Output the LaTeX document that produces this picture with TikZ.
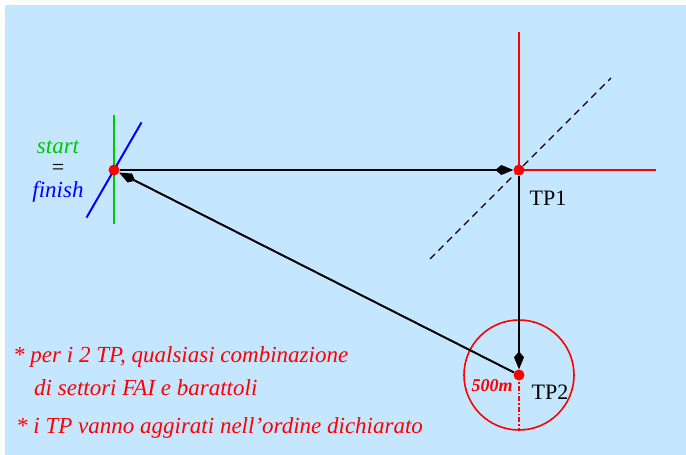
\documentclass[tikz,border=0pt]{standalone}
\usepackage{fontspec}
\setmainfont{Liberation Serif}
\usetikzlibrary{shapes,arrows.meta}
\definecolor{skyback}{RGB}{196,230,255}
\definecolor{startgreen}{RGB}{0,200,0}

\begin{document}
\begin{tikzpicture}[x=1pt,y=-1pt]
    % Define styles
    \tikzstyle{wp} = [circle, fill=red, inner sep=0pt, minimum size=11pt]
    \tikzstyle{leg} = [draw, line width=2pt, -{Kite[length=18pt,width=10pt,inset=6pt]}]
    \tikzstyle{sector} = [draw, red, line width=1.6pt]
    \tikzstyle{lbl} = [font=\fontsize{22}{26}\selectfont]
    \tikzstyle{note} = [font=\fontsize{23}{27}\selectfont\itshape, text=red, anchor=west, inner sep=0pt]

    % Background
    \useasboundingbox (0,0) rectangle (686,455);
    \fill[skyback] (5,5) rectangle (686,455);

    % Turn points
    \coordinate (p0) at (114,170);
    \coordinate (p1) at (519,170);
    \coordinate (p2) at (519,375);

    % Start / finish line
    \draw[startgreen, line width=1.8pt] (p0) ++(0,-55) -- ++(0,109);
    \draw[blue, line width=2pt] (p0) ++(-60:-55) -- ++(-60:110);

    % TP1 sector and bisector
    \draw[sector] (p1) ++(0,-138) -- (p1) -- ++(137,0);
    \draw[line width=1.1pt, dash pattern=on 7pt off 5pt] (p1) ++(-89,89) -- ++(181,-181);

    % TP2 cylinder
    \draw[sector] (p2) circle (55);
    \draw[sector, dash pattern=on 5pt off 2pt on 1.5pt off 2pt] (p2) -- ++(0,55);

    % Points
    \node [wp] (start) at (p0) {};
    \node [wp] (tp1) at (p1) {};
    \node [wp] (tp2) at (p2) {};

    % Course legs
    \path [leg] (start) -- (tp1);
    \path [leg] (tp1) -- (tp2);
    \path [leg] (tp2) -- (start);

    % Labels
    \node [text=startgreen, font=\fontsize{23}{27}\selectfont\itshape] (lstart) at (58,147) {start};
    \node [lbl] (leq) at (58,169) {=};
    \node [text=blue, font=\fontsize{23}{27}\selectfont\itshape] (lfinish) at (58,192) {finish};
    \node [lbl] (ltp1) at (548,198) {TP1};
    \node [lbl] (ltp2) at (550,392) {TP2};
    \node [text=red, font=\fontsize{18}{21}\selectfont\bfseries\itshape] (lradius) at (492,386) {500m};

    % Notes
    \node [note] (note1) at (13,357) {* per i 2 TP, qualsiasi combinazione};
    \node [note] (note2) at (34,388) {di settori FAI e barattoli};
    \node [note] (note3) at (16,428) {* i TP vanno aggirati nell’ordine dichiarato};
\end{tikzpicture}
\end{document}
